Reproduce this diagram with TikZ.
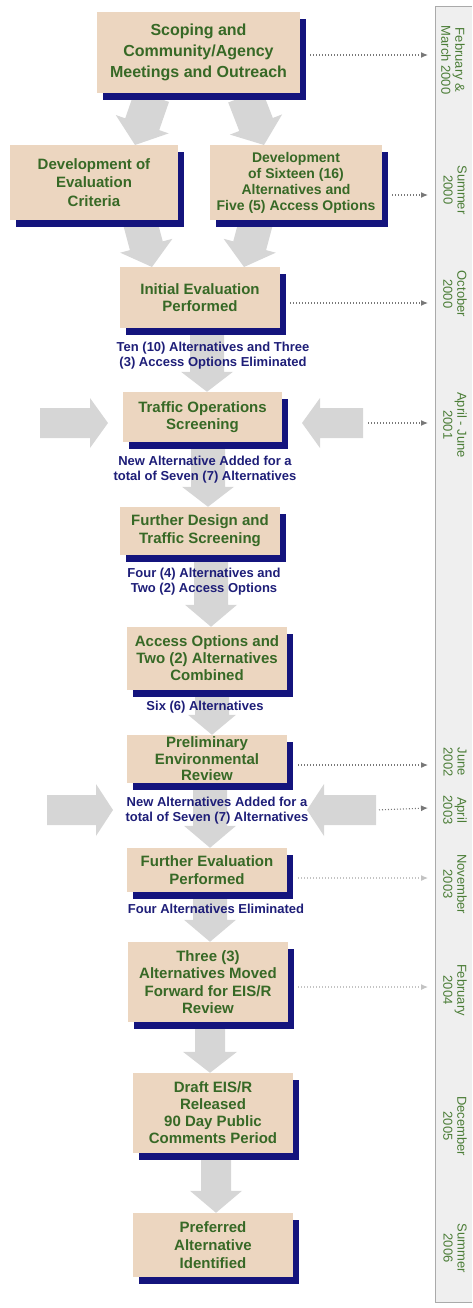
\documentclass[tikz,border=0pt]{standalone}
\usepackage{fontspec}
\setmainfont{Liberation Sans}
\usetikzlibrary{shadows,arrows.meta,calc,backgrounds}
\definecolor{boxfill}{RGB}{236,214,192}
\definecolor{shadowblue}{RGB}{20,20,125}
\definecolor{boxgreen}{RGB}{55,105,38}
\definecolor{labnavy}{RGB}{30,30,120}
\definecolor{arrowgray}{RGB}{214,214,214}
\definecolor{panelfill}{RGB}{239,239,239}
\definecolor{panelline}{RGB}{170,170,170}
\definecolor{tlgreen}{RGB}{75,125,55}
\definecolor{dotdark}{RGB}{120,120,120}
\definecolor{dotlight}{RGB}{195,195,195}

% block arrow: start, end, shaft half width, head half width, head length
\newcommand\blockarrow[5]{%
  \fill[arrowgray] let \p1=#1, \p2=#2, \p3=($(\p2)!#5!(\p1)$) in
    ($(\p1)!#3!90:(\p2)$) -- ($(\p3)!#3!90:(\p2)$) -- ($(\p3)!#4!90:(\p2)$)
    -- (\p2) -- ($(\p3)!#4!-90:(\p2)$) -- ($(\p3)!#3!-90:(\p2)$)
    -- ($(\p1)!#3!-90:(\p2)$) -- cycle;}

\begin{document}
\begin{tikzpicture}[x=1pt,y=-1pt,
  box/.style={fill=boxfill, inner sep=0pt, align=center, text=boxgreen,
    font=\bfseries\fontsize{15}{17.5}\selectfont,
    general shadow={fill=shadowblue, shadow xshift=6pt, shadow yshift=-7pt}},
  lab/.style={text=labnavy, inner sep=0pt, align=center,
    font=\bfseries\fontsize{13}{15}\selectfont},
  tl/.style={text=tlgreen, inner sep=0pt, align=center, rotate=-90,
    font=\fontsize{13}{14}\selectfont},
  dotarrow/.style={draw=dotdark, line width=1.1pt, dash pattern=on 1pt off 2pt,
    -{Latex[length=7pt,width=6pt]}},
  dotlite/.style={dotarrow, draw=dotlight}]
\useasboundingbox (0,0) rectangle (472,1308);

% ---------- boxes ----------
\node[box, minimum width=203pt, minimum height=81pt,
  font=\bfseries\fontsize{16}{21}\selectfont] (scope) at (198.5,52.5)
  {Scoping and\\Community/Agency\\Meetings and Outreach};
\node[box, minimum width=168pt, minimum height=75pt,
  font=\bfseries\fontsize{15}{18.5}\selectfont] (crit) at (94,182.5)
  {Development of\\Evaluation\\Criteria};
\node[box, minimum width=172pt, minimum height=75pt,
  font=\bfseries\fontsize{14}{16}\selectfont] (six) at (296,182.5)
  {Development\\of Sixteen (16)\\Alternatives and\\Five (5) Access Options};
\node[box, minimum width=160pt, minimum height=61pt] (init) at (200,297.5)
  {Initial Evaluation\\Performed};
\node[box, minimum width=159pt, minimum height=50pt,
  font=\bfseries\fontsize{15}{16.5}\selectfont] (traffic) at (202.5,417)
  {Traffic Operations\\Screening};
\node[box, minimum width=160pt, minimum height=48pt,
  font=\bfseries\fontsize{15}{18}\selectfont] (design) at (200,531)
  {Further Design and\\Traffic Screening};
\node[box, minimum width=160pt, minimum height=63pt,
  font=\bfseries\fontsize{15}{17}\selectfont] (access) at (207,658.5)
  {Access Options and\\Two (2) Alternatives\\Combined};
\node[box, minimum width=160pt, minimum height=48pt,
  font=\bfseries\fontsize{15}{16.5}\selectfont] (prelim) at (207,759)
  {Preliminary\\Environmental\\Review};
\node[box, minimum width=160pt, minimum height=44pt,
  font=\bfseries\fontsize{15}{18}\selectfont] (furteval) at (207,870)
  {Further Evaluation\\Performed};
\node[box, minimum width=160pt, minimum height=80pt] (three) at (208,982)
  {Three (3)\\Alternatives Moved\\Forward for EIS/R\\Review};
\node[box, minimum width=160pt, minimum height=80pt,
  font=\bfseries\fontsize{15}{17}\selectfont] (draft) at (213,1113)
  {Draft EIS/R\\Released\\90 Day Public\\Comments Period};
\node[box, minimum width=160pt, minimum height=64pt,
  font=\bfseries\fontsize{15}{18}\selectfont] (pref) at (213,1245)
  {Preferred\\Alternative\\Identified};

% ---------- labels ----------
\node[lab] (lab1) at (213,355.5) {Ten (10) Alternatives and Three\\(3) Access Options Eliminated};
\node[lab] (lab2) at (205,469.5) {New Alternative Added for a\\total of Seven (7) Alternatives};
\node[lab] (lab3) at (204,582) {Four (4) Alternatives and\\Two (2) Access Options};
\node[lab] (lab4) at (205,707) {Six (6) Alternatives};
\node[lab] (lab5) at (217,810.5) {New Alternatives Added for a\\total of Seven (7) Alternatives};
\node[lab] (lab6) at (216,909) {Four Alternatives Eliminated};

% ---------- timeline ----------
\node[tl] (t1) at (453,60) {February \&\\March 2000};
\node[tl] (t2) at (455,190) {Summer\\2000};
\node[tl] (t3) at (455,294) {October\\2000};
\node[tl] (t4) at (455,425) {April - June\\2001};
\node[tl] (t5) at (455,762) {June\\2002};
\node[tl] (t6) at (455,810) {April\\2003};
\node[tl] (t7) at (455,884) {November\\2003};
\node[tl] (t8) at (455,990) {February\\2004};
\node[tl] (t9) at (455,1126) {December\\2005};
\node[tl] (t10) at (455,1248) {Summer\\2006};

% ---------- free coordinates ----------
\coordinate (l1s) at (40,423);  \coordinate (l1e) at (108,423);
\coordinate (r1s) at (363,423); \coordinate (r1e) at (302,423);
\coordinate (l2s) at (47,810);  \coordinate (l2e) at (113,810);
\coordinate (r2s) at (376,810); \coordinate (r2e) at (307,810);
\coordinate (d1) at (428,55);
\coordinate (d2) at (428,195);
\coordinate (d3) at (428,303);
\coordinate (d4) at (428,423);
\coordinate (d5) at (428,765);
\coordinate (d6) at (428,808);
\coordinate (d7) at (428,878);
\coordinate (d8) at (428,987);

% ---------- background: panel and block arrows ----------
\begin{pgfonlayer}{background}
  \fill[panelfill] (435,6) rectangle (472,1302);
  \draw[panelline, line width=0.8pt] (472,6) -- (435,6) -- (435,1302) -- (472,1302);

  \blockarrow{(152,96)}{(135,145)}{18pt}{28pt}{22pt}
  \blockarrow{(245,96)}{(264,145)}{18pt}{28pt}{22pt}
  \blockarrow{(140,222)}{(152,267)}{17pt}{27pt}{22pt}
  \blockarrow{(256,222)}{(244,267)}{17pt}{27pt}{22pt}

  \blockarrow{(207,0 |- init.south)}{(207,0 |- traffic.north)}{17pt}{26pt}{20pt}
  \blockarrow{(208,0 |- traffic.south)}{(208,0 |- design.north)}{17pt}{26pt}{20pt}
  \blockarrow{(211,0 |- design.south)}{(211,0 |- access.north)}{17pt}{26pt}{22pt}
  \blockarrow{(212,0 |- access.south)}{(212,0 |- prelim.north)}{17pt}{24pt}{20pt}
  \blockarrow{(210,0 |- prelim.south)}{(210,0 |- furteval.north)}{17pt}{26pt}{22pt}
  \blockarrow{(210,0 |- furteval.south)}{(210,0 |- three.north)}{17pt}{26pt}{22pt}
  \blockarrow{(210,0 |- three.south)}{(210,0 |- draft.north)}{15pt}{27pt}{21pt}
  \blockarrow{(216,0 |- draft.south)}{(216,0 |- pref.north)}{15pt}{26pt}{22pt}

  \blockarrow{(l1s)}{(l1e)}{15pt}{25pt}{18pt}
  \blockarrow{(r1s)}{(r1e)}{15pt}{25pt}{18pt}
  \blockarrow{(l2s)}{(l2e)}{15pt}{26pt}{17pt}
  \blockarrow{(r2s)}{(r2e)}{15pt}{26pt}{17pt}
\end{pgfonlayer}

% ---------- dotted timeline connectors ----------
\draw[dotarrow, shorten <=10pt] (scope.east |- d1) -- (d1);
\draw[dotarrow, shorten <=10pt] (six.east |- d2) -- (d2);
\draw[dotarrow, shorten <=10pt] (init.east |- d3) -- (d3);
\draw[dotarrow, shorten <=5pt] (r1s) -- (d4);
\draw[dotarrow, shorten <=11pt] (prelim.east |- d5) -- (d5);
\draw[dotarrow, shorten <=3pt] (r2s) -- (d6);
\draw[dotlite, shorten <=11pt] (furteval.east |- d7) -- (d7);
\draw[dotlite, shorten <=10pt] (three.east |- d8) -- (d8);
\end{tikzpicture}
\end{document}
